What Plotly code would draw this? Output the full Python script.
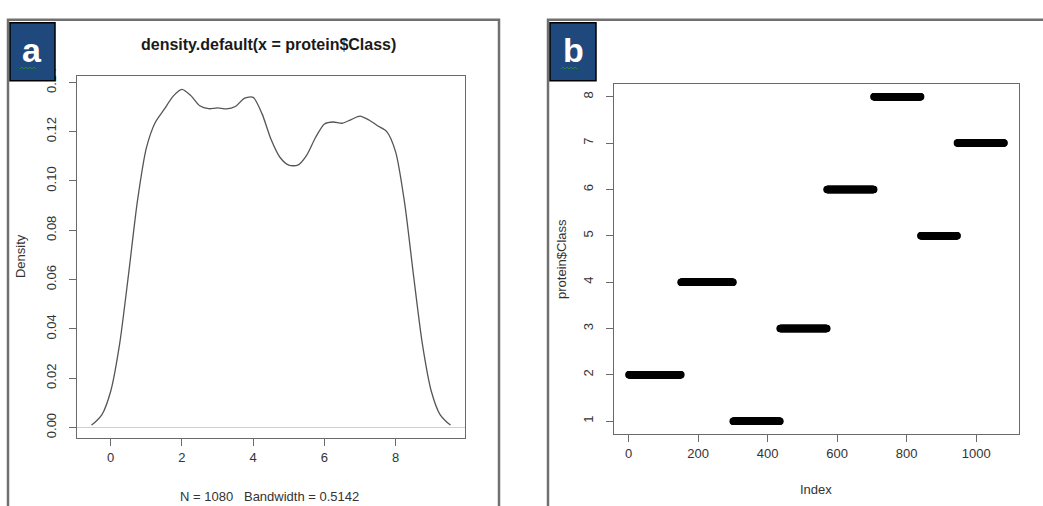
import plotly.graph_objects as go

# ---------------- data ----------------
# Panel a: density estimate of protein$Class (N = 1080, bw = 0.5142)
dens_x = [-0.54, -0.5, -0.25, 0.0, 0.25, 0.5, 0.75, 1.0, 1.25, 1.5, 1.75, 2.0, 2.25, 2.5, 2.75,
          3.0, 3.25, 3.5, 3.75, 4.0, 4.25, 4.5, 4.75, 5.0, 5.25, 5.5, 5.75, 6.0, 6.25, 6.5,
          6.75, 7.0, 7.25, 7.5, 7.75, 8.0, 8.25, 8.5, 8.75, 9.0, 9.25, 9.5, 9.54]
dens_y = [0.0011, 0.0014, 0.0051, 0.0147, 0.0338, 0.0620, 0.0918, 0.1133, 0.1237, 0.1290,
          0.1343, 0.1371, 0.1346, 0.1305, 0.1293, 0.1296, 0.1292, 0.1302, 0.1335, 0.1339,
          0.1272, 0.1169, 0.1096, 0.1064, 0.1064, 0.1104, 0.1176, 0.1231, 0.1239, 0.1234,
          0.1249, 0.1263, 0.1247, 0.1223, 0.1200, 0.1117, 0.0912, 0.0618, 0.0338, 0.0147,
          0.0051, 0.0014, 0.0011]

# Panel b: protein$Class by row index (run lengths, in row order)
class_runs = [2, 4, 1, 3, 6, 8, 5, 7]
run_counts = [150, 150, 135, 135, 135, 135, 105, 135]

a_xticks = [0, 2, 4, 6, 8]
a_yticks = [0.00, 0.02, 0.04, 0.06, 0.08, 0.10, 0.12, 0.14]
b_xticks = [0, 200, 400, 600, 800, 1000]
b_yticks = [1, 2, 3, 4, 5, 6, 7, 8]

title_a = "density.default(x = protein$Class)"
sub_a = "N = 1080   Bandwidth = 0.5142"

# ---------------- build ----------------
W, H = 1043, 506
def px(x): return x / W
def py(y): return 1 - y / H

idx, cls = [], []
i = 1
for c, n in zip(class_runs, run_counts):
    for _ in range(n):
        idx.append(i)
        cls.append(c)
        i += 1

FONT = "Liberation Sans, Arial, Helvetica, sans-serif"
TXT = "#333333"
AX = "#6a6a6a"

fig = go.Figure()
fig.add_trace(go.Scatter(x=dens_x, y=dens_y, mode="lines", line=dict(color="#555555", width=1.3, shape="spline", smoothing=0.7),
                         xaxis="x", yaxis="y", showlegend=False, hoverinfo="skip"))
fig.add_trace(go.Scatter(x=idx, y=cls, mode="markers", marker=dict(color="black", size=7.5, line=dict(width=0)),
                         xaxis="x2", yaxis="y2", showlegend=False, hoverinfo="skip"))

axcommon = dict(showgrid=False, zeroline=False, showline=True, mirror=True, linecolor=AX, linewidth=1,
                ticks="outside", ticklen=7, tickcolor=AX, tickwidth=1,
                tickfont=dict(family=FONT, size=13, color=TXT))

fig.update_layout(
    width=W, height=H, margin=dict(l=0, r=0, t=0, b=0),
    paper_bgcolor="white", plot_bgcolor="white",
    xaxis=dict(domain=[px(77), px(465)], range=[-0.946, 9.946], tickvals=a_xticks, anchor="y", **axcommon),
    yaxis=dict(domain=[py(437), py(69)], range=[-0.0043, 0.1426], tickvals=a_yticks, tickformat=".2f",
               tickangle=-90, anchor="x", ticklabelstandoff=8, **axcommon),
    xaxis2=dict(domain=[px(614), px(1019)], range=[-42.2, 1123.2], tickvals=b_xticks, anchor="y2", **axcommon),
    yaxis2=dict(domain=[py(433), py(77)], range=[0.72, 8.28], tickvals=b_yticks,
                tickangle=-90, anchor="x2", ticklabelstandoff=8, **axcommon),
)

shapes = []
# gray zero line in density plot
shapes.append(dict(type="line", xref="x domain", yref="y", x0=0, x1=1, y0=0, y1=0,
                   line=dict(color="#d0d0d0", width=1.2), layer="below"))
# outer panel frames
shapes.append(dict(type="rect", xref="paper", yref="paper", x0=px(8), x1=px(499), y0=-0.05, y1=py(12),
                   line=dict(color="#707070", width=2.5)))
shapes.append(dict(type="rect", xref="paper", yref="paper", x0=px(548), x1=1.05, y0=-0.05, y1=py(12),
                   line=dict(color="#707070", width=2.5)))
# label boxes
for (x0, x1) in [(10, 55), (550, 596)]:
    shapes.append(dict(type="rect", xref="paper", yref="paper", x0=px(x0), x1=px(x1), y0=py(74), y1=py(15),
                       fillcolor="#1f497d", line=dict(color="black", width=1.5)))
# green squiggles under label letters
for sx in [20, 561]:
    pts = []
    for k in range(9):
        xx = sx + k * 2
        yy = 62 if k % 2 == 0 else 60
        pts.append(("M" if k == 0 else "L") + f" {px(xx)} {py(yy)}")
    shapes.append(dict(type="path", xref="paper", yref="paper", path=" ".join(pts),
                       line=dict(color="#1e8c2e", width=1)))
fig.update_layout(shapes=shapes)

ann = [
    dict(text="<b>" + title_a + "</b>", x=px(268), y=py(37), font=dict(size=16, color="#1a1a1a")),
    dict(text=sub_a, x=px(269), y=py(496), font=dict(size=13, color=TXT)),
    dict(text="Density", x=px(20), y=py(252), textangle=-90, font=dict(size=13, color=TXT)),
    dict(text="Index", x=px(816), y=py(489), font=dict(size=13, color=TXT)),
    dict(text="protein$Class", x=px(562), y=py(255), textangle=-90, font=dict(size=13, color=TXT)),
    dict(text="<b>a</b>", x=px(32), y=py(43), font=dict(size=34, color="white")),
    dict(text="<b>b</b>", x=px(573), y=py(43), font=dict(size=34, color="white")),
]
for a in ann:
    a.update(xref="paper", yref="paper", showarrow=False, xanchor="center", yanchor="middle")
    a["font"]["family"] = FONT
fig.update_layout(annotations=ann)

fig.write_html("out.html")
